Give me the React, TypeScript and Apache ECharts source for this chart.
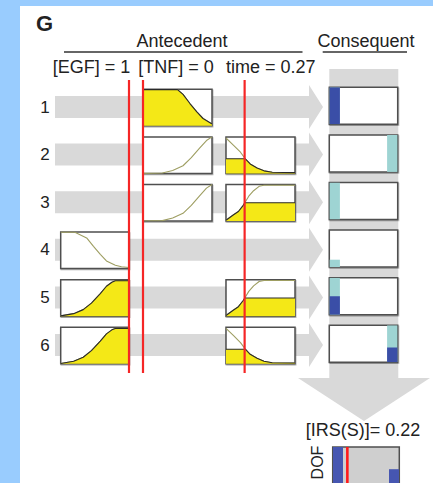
import React, { useEffect, useRef } from 'react';
import * as echarts from 'echarts';

const FONT = "'Liberation Sans', Arial, Helvetica, sans-serif";

// Rule numbers printed at the left of each row
const ruleLabels = ['1', '2', '3', '4', '5', '6'];

// Inputs and their current crisp values
const inputNames = ['[EGF]', '[TNF]', 'time'];
const inputValues = [1, 0, 0.27];

// Membership functions sampled as (x, mu) on the unit interval
const egfLow = [[0, 1], [0.2, 1], [0.26, 0.95], [0.38, 0.84], [0.48, 0.61], [0.58, 0.39], [0.67, 0.21], [0.8, 0.09], [0.89, 0.05], [1, 0.03]];
const egfHigh = [[0, 0.01], [0.19, 0.07], [0.33, 0.18], [0.45, 0.36], [0.58, 0.62], [0.67, 0.82], [0.75, 0.93], [0.8, 0.97], [1, 0.97]];
const tnfLow = [[0, 0.99], [0.5, 0.99], [0.58, 0.86], [0.68, 0.61], [0.78, 0.38], [0.87, 0.2], [1, 0.05]];
const tnfHigh = [[0, 0], [0.28, 0.01], [0.43, 0.08], [0.58, 0.21], [0.7, 0.43], [0.82, 0.69], [0.92, 0.9], [1, 1]];
const timeLow = [[0, 0.97], [0.11, 0.77], [0.21, 0.58], [0.28, 0.4], [0.35, 0.26], [0.45, 0.15], [0.55, 0.07], [0.67, 0.03], [1, 0.02]];
const timeHigh = [[0, 0.02], [0.11, 0.17], [0.18, 0.26], [0.25, 0.43], [0.33, 0.68], [0.4, 0.83], [0.48, 0.95], [0.55, 0.98], [1, 0.98]];

// Which term each rule uses for each input (null = input not in the rule)
const egfTerms = [null, null, null, 'low', 'high', 'high'];
const tnfTerms = ['low', 'high', 'high', null, null, null];
const timeTerms = [null, 'low', 'high', null, 'high', 'low'];

// Degree of membership of the current inputs in each rule's terms
const egfDegrees = [null, null, null, 0, 1, 1];
const tnfDegrees = [1, 0, 0, null, null, null];
const timeDegrees = [null, 0.4, 0.5, null, 0.5, 0.4];

// Consequent of each rule, with its weight
const consequentTerms = ['low', 'high', 'low', 'low', 'low', 'high'];
const ruleWeights = [1, 1, 1, 0.2, 1, 1];
const outputLevels: Record<string, number> = { low: 0.08, high: 0.92 };

// Defuzzified output
const irsValue = 0.22;

// ---- styling / layout ----
const BLUE_BG = '#99ccfe';
const BAND = '#d9d9d9';
const YELLOW = '#f4e817';
const OLIVE = '#9e9e62';
const EDGE = '#2a2a2a';
const RED = '#f52626';
const DARK_BLUE = '#3a4ea7';
const TEAL = '#9ed4d3';
const BOX_BORDER = '#4f4f4f';
const TEXT = '#222';

const COLS = [
  { x: 60.7, w: 68.3 },
  { x: 143, w: 69 },
  { x: 226, w: 69 },
];
const ROW_TOP = 89.3;
const ROW_STEP = 47.6;
const BOX_H = 36.5;
const CONS_X = 329.3;
const CONS_W = 68.4;
const CONS_TOP = 87.3;
const CONS_H = 37;
const BAR_HALF = 0.075;

const curves: Record<string, Record<string, number[][]>> = {
  egf: { low: egfLow, high: egfHigh },
  tnf: { low: tnfLow, high: tnfHigh },
  time: { low: timeLow, high: timeHigh },
};

// Area under a membership curve, cut off at the firing level
function clipCurve(pts: number[][], level: number) {
  const out: number[][] = [];
  for (let k = 0; k < pts.length; k++) {
    const [x, y] = pts[k];
    if (k > 0) {
      const [px, py] = pts[k - 1];
      if ((py - level) * (y - level) < 0) {
        const t = (level - py) / (y - py);
        out.push([px + t * (x - px), level]);
      }
    }
    out.push([x, Math.min(y, level)]);
  }
  return out;
}

function buildOption() {
  const grids: any[] = [];
  const xAxes: any[] = [];
  const yAxes: any[] = [];
  const series: any[] = [];

  const addGrid = (x: number, y: number, w: number, h: number, style: any) => {
    const idx = grids.length;
    grids.push({ left: x, top: y, width: w, height: h, containLabel: false, outerBoundsMode: 'none', ...style });
    xAxes.push({ gridIndex: idx, type: 'value', min: 0, max: 1, show: false });
    yAxes.push({ gridIndex: idx, type: 'value', min: 0, max: 1, show: false });
    return idx;
  };

  const boxStyle = {
    show: true, backgroundColor: '#fff', borderColor: BOX_BORDER, borderWidth: 1.5, z: 3,
    shadowColor: 'rgba(0,0,0,0.35)', shadowBlur: 1.5, shadowOffsetX: 0.5, shadowOffsetY: 1,
  };

  const bar = (g: number, color: string, x: number, h: number, z: number) => ({
    type: 'custom',
    xAxisIndex: g,
    yAxisIndex: g,
    data: [[x, h]],
    clip: true,
    silent: true,
    z,
    renderItem: (_p: any, api: any) => {
      const a = api.coord([api.value(0) - BAR_HALF, 0]);
      const b = api.coord([api.value(0) + BAR_HALF, api.value(1)]);
      return {
        type: 'rect',
        shape: { x: a[0], y: b[1], width: b[0] - a[0], height: a[1] - b[1] },
        style: { fill: color },
      };
    },
  });

  const termsByInput = [egfTerms, tnfTerms, timeTerms];
  const degreesByInput = [egfDegrees, tnfDegrees, timeDegrees];
  const keys = ['egf', 'tnf', 'time'];

  const firing: number[] = [];

  ruleLabels.forEach((_, r) => {
    let fire = 1;
    keys.forEach((key, c) => {
      const term = termsByInput[c][r];
      if (!term) return;
      const deg = degreesByInput[c][r] as number;
      fire = Math.min(fire, deg);
      const pts = curves[key][term];
      const g = addGrid(COLS[c].x, ROW_TOP + ROW_STEP * r, COLS[c].w, BOX_H, boxStyle);
      series.push({
        type: 'line', xAxisIndex: g, yAxisIndex: g, data: pts, symbol: 'none', silent: true,
        lineStyle: { color: OLIVE, width: 1.1 }, z: 5,
      });
      if (deg > 0) {
        series.push({
          type: 'line', xAxisIndex: g, yAxisIndex: g, data: clipCurve(pts, deg), symbol: 'none', silent: true,
          lineStyle: { color: EDGE, width: 1.1 }, areaStyle: { color: YELLOW, opacity: 1 }, z: 6,
        });
      }
    });
    firing.push(fire * ruleWeights[r]);

    // consequent box
    const g = addGrid(CONS_X, CONS_TOP + ROW_STEP * r, CONS_W, CONS_H, boxStyle);
    const lvl = outputLevels[consequentTerms[r]];
    series.push(bar(g, TEAL, lvl, ruleWeights[r], 5));
    if (fire > 0) series.push(bar(g, DARK_BLUE, lvl, fire * ruleWeights[r], 6));
  });

  // red input markers running through each antecedent column
  keys.forEach((_, c) => {
    const g = addGrid(COLS[c].x, 80, COLS[c].w, 293, { show: false });
    const v = inputValues[c];
    series.push({
      type: 'line', xAxisIndex: g, yAxisIndex: g, data: [[v, 0], [v, 1]], symbol: 'none', silent: true,
      clip: false, lineStyle: { color: RED, width: 2.2 }, z: 9,
    });
  });

  // aggregated output
  const aggLow = Math.max(...firing.filter((_, r) => consequentTerms[r] === 'low'));
  const aggHigh = Math.max(...firing.filter((_, r) => consequentTerms[r] === 'high'));
  const gd = addGrid(332.7, 447, 66.6, 37, { show: true, backgroundColor: '#cfcfcf', borderColor: BOX_BORDER, borderWidth: 1.5, z: 3 });
  series.push(bar(gd, '#4656b1', outputLevels.low, aggLow, 5));
  series.push(bar(gd, '#4656b1', outputLevels.high, aggHigh, 5));
  series.push({
    type: 'line', xAxisIndex: gd, yAxisIndex: gd, data: [[irsValue, 0], [irsValue, 1]], symbol: 'none', silent: true,
    clip: false, lineStyle: { color: '#ff1a1a', width: 2.6 }, z: 9,
  });

  // decoration: panel, flow arrows, headings
  const graphic: any[] = [];
  graphic.push({ type: 'rect', shape: { x: 20, y: 6, width: 413, height: 477 }, style: { fill: '#fff' }, z: 0, silent: true });
  ruleLabels.forEach((_, r) => {
    const cy = 107 + ROW_STEP * r;
    graphic.push({
      type: 'polygon', z: 1, silent: true,
      shape: { points: [[55, cy - 11], [309, cy - 11], [309, cy - 22], [323, cy], [309, cy + 22], [309, cy + 11], [55, cy + 11]] },
      style: { fill: BAND },
    });
  });
  graphic.push({
    type: 'polygon', z: 1, silent: true,
    shape: { points: [[329.3, 69], [398.3, 69], [398.3, 378], [430, 378], [364, 421], [298, 378], [329.3, 378]] },
    style: { fill: BAND },
  });

  const txt = (text: string, x: number, y: number, size: number, align: string, extra: any = {}) => ({
    type: 'text', x, y, z: 10, silent: true, ...extra,
    style: {
      text, font: `${extra.bold ? 'bold ' : ''}${size}px ${FONT}`, fill: TEXT,
      align, verticalAlign: 'middle', textAlign: align, textVerticalAlign: 'middle',
    },
  });

  graphic.push(txt('G', 36, 23.5, 22, 'left', { bold: true }));
  graphic.push(txt('Antecedent', 182, 40.5, 18, 'center'));
  graphic.push(txt('Consequent', 366, 40.5, 18, 'center'));
  graphic.push({ type: 'line', z: 10, silent: true, shape: { x1: 64, y1: 52, x2: 302.5, y2: 52 }, style: { stroke: '#333', lineWidth: 1.5 } });
  graphic.push({ type: 'line', z: 10, silent: true, shape: { x1: 322.7, y1: 52, x2: 407, y2: 52 }, style: { stroke: '#333', lineWidth: 1.5 } });
  const labelX = [52.7, 138.3, 226];
  inputNames.forEach((n, c) => {
    graphic.push(txt(`${n} = ${inputValues[c]}`, labelX[c], 66.5, 18, 'left'));
  });
  ruleLabels.forEach((l, r) => {
    graphic.push(txt(l, 45, 107 + ROW_STEP * r, 17, 'center'));
  });
  graphic.push(txt(`[IRS(S)]= ${irsValue}`, 363, 430, 18, 'center'));
  graphic.push(txt('DOF', 317.5, 462.5, 16, 'center', { rotation: Math.PI / 2 }));

  return {
    animation: false,
    backgroundColor: BLUE_BG,
    grid: grids,
    xAxis: xAxes,
    yAxis: yAxes,
    series,
    graphic: { elements: graphic },
  };
}

export default function App() {
  const ref = useRef<HTMLDivElement>(null);
  useEffect(() => {
    const chart = echarts.init(ref.current!, null, { renderer: 'svg' });
    chart.setOption(buildOption() as any);
    return () => chart.dispose();
  }, []);
  return <div ref={ref} style={{ position: 'fixed', left: 0, top: 0, width: 433, height: 483 }} />;
}
